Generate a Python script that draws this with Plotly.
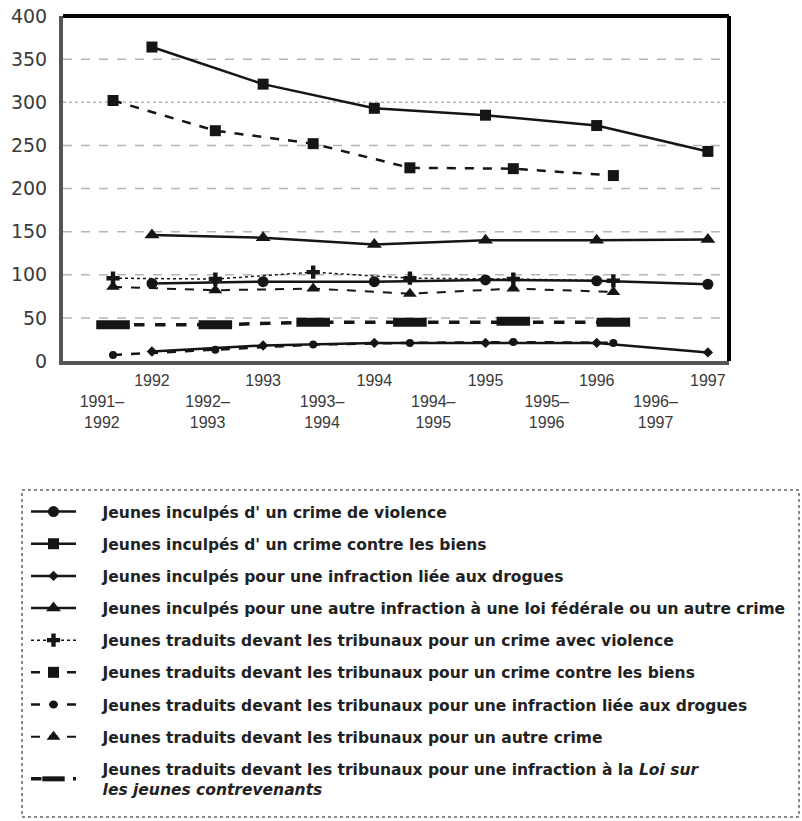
import plotly.graph_objects as go

# ---------------- data ----------------
calendar_years = [1992, 1993, 1994, 1995, 1996, 1997]
calendar_labels = ["1992", "1993", "1994", "1995", "1996", "1997"]
fiscal_pos = [1991.65, 1992.57, 1993.45, 1994.32, 1995.25, 1996.15]
fiscal_label_pos = [1991.55, 1992.5, 1993.53, 1994.53, 1995.55, 1996.53]
fiscal_labels = ["1991–<br>1992", "1992–<br>1993", "1993–<br>1994",
                 "1994–<br>1995", "1995–<br>1996", "1996–<br>1997"]

inculpes_violence = [90, 92, 92, 94, 93, 89]
inculpes_biens = [364, 321, 293, 285, 273, 243]
inculpes_drogues = [11, 18, 21, 21, 21, 10]
inculpes_autre = [146, 143, 135, 140, 140, 141]
tribunaux_violence = [96, 95, 103, 96, 95, 93]
tribunaux_biens = [302, 267, 252, 224, 223, 215]
tribunaux_drogues = [7, 13, 19, 21, 22, 21]
tribunaux_autre = [86, 82, 84, 78, 84, 80]
tribunaux_ljc = [42, 42, 45, 45, 46, 45]

IND = "\u00a0" * 4
names = [
    "Jeunes inculpés d' un crime de violence",
    "Jeunes inculpés d' un crime contre les biens",
    "Jeunes inculpés pour une infraction liée aux drogues",
    "Jeunes inculpés pour une autre infraction à une loi fédérale ou un autre crime",
    "Jeunes traduits devant les tribunaux pour un crime avec violence",
    "Jeunes traduits devant les tribunaux pour un crime contre les biens",
    "Jeunes traduits devant les tribunaux pour une infraction liée aux drogues",
    "Jeunes traduits devant les tribunaux pour un autre crime",
    "Jeunes traduits devant les tribunaux pour une infraction à la <i>Loi sur</i><br>" + IND + "<i>les jeunes contrevenants</i>",
]

y_ticks = [0, 50, 100, 150, 200, 250, 300, 350, 400]

# ---------------- layout constants ----------------
W, H = 802, 821
L, R, T, B = 63, 73, 16, 460
PW, PH = W - L - R, H - T - B


def px_x(p):
    return (p - L) / PW


def px_y(p):
    return (H - B - p) / PH


ink = "#151515"
fig = go.Figure()

series = [
    (calendar_years, inculpes_violence, dict(symbol="circle", size=11), dict(width=2.5, dash="solid")),
    (calendar_years, inculpes_biens, dict(symbol="square", size=11), dict(width=2.5, dash="solid")),
    (calendar_years, inculpes_drogues, dict(symbol="diamond", size=8), dict(width=2.5, dash="solid")),
    (calendar_years, inculpes_autre, dict(symbol="triangle-up", size=13), dict(width=2.5, dash="solid")),
    (fiscal_pos, tribunaux_violence, dict(symbol="cross", size=11), dict(width=1.5, dash="dot")),
    (fiscal_pos, tribunaux_biens, dict(symbol="square", size=11), dict(width=2.5, dash="dash")),
    (fiscal_pos, tribunaux_drogues, dict(symbol="circle", size=8), dict(width=2.5, dash="dash")),
    (fiscal_pos, tribunaux_autre, dict(symbol="triangle-up", size=12), dict(width=2, dash="dash")),
    (fiscal_pos, tribunaux_ljc, dict(symbol="line-ew", size=24, line=dict(width=9, color=ink)), dict(width=3.5, dash="dash")),
]

for i, (xs, ys, mk, ln) in enumerate(series):
    mk = dict(mk)
    mk.setdefault("color", ink)
    fig.add_trace(go.Scatter(
        x=xs, y=ys, mode="lines+markers", name=IND + names[i],
        legendgroup=f"g{i}",
        marker=mk, line=dict(color=ink, **ln),
        hoverinfo="skip",
    ))

shapes = []
for v in y_ticks[1:-1]:
    shapes.append(dict(type="line", xref="paper", yref="y", x0=0, x1=1, y0=v, y1=v,
                       line=dict(color="#b5b5b5", width=1.5,
                                 dash="dot" if v == 300 else "dash"),
                       layer="below"))
# top and right black frame
shapes.append(dict(type="line", xref="paper", yref="paper", x0=0, x1=1, y0=1, y1=1,
                   line=dict(color="#000", width=4)))
shapes.append(dict(type="line", xref="paper", yref="paper", x0=1, x1=1, y0=0, y1=1,
                   line=dict(color="#000", width=4)))
# legend box
shapes.append(dict(type="rect", xref="paper", yref="paper",
                   x0=px_x(22), x1=px_x(799), y0=px_y(817), y1=px_y(490),
                   line=dict(color="#8a8a8a", width=2, dash="dot")))

tick_vals = calendar_years + fiscal_label_pos
tick_text = calendar_labels + ["<br>" + t for t in fiscal_labels]

fig.update_layout(
    width=W, height=H,
    margin=dict(l=L, r=R, t=T, b=B, autoexpand=False),
    paper_bgcolor="white", plot_bgcolor="white",
    showlegend=True,
    shapes=shapes,
    xaxis=dict(range=[1991.2, 1997.19], tickvals=tick_vals, ticktext=tick_text,
               showgrid=False, zeroline=False, automargin=False,
               showline=True, linecolor="#555", linewidth=4,
               ticks="outside", ticklen=2, tickcolor="rgba(0,0,0,0)",
               tickfont=dict(family="Liberation Sans, Arial", size=16, color="#3a3a3a")),
    yaxis=dict(range=[0, 400], tickvals=y_ticks, showgrid=False, zeroline=False,
               automargin=False,
               showline=True, linecolor="#555", linewidth=4,
               ticks="outside", ticklen=8, tickcolor="rgba(0,0,0,0)",
               tickfont=dict(family="DejaVu Sans", size=19, color="#3a3a3a")),
    legend=dict(x=px_x(26), y=px_y(495), xanchor="left", yanchor="top",
                bgcolor="rgba(0,0,0,0)", borderwidth=0,
                tracegroupgap=9, itemwidth=45,
                font=dict(family="DejaVu Sans", size=15.5, color="#222", weight="bold")),
)

fig.write_html("out.html", config={"displayModeBar": False},
               post_script="document.body.style.margin='0';")
